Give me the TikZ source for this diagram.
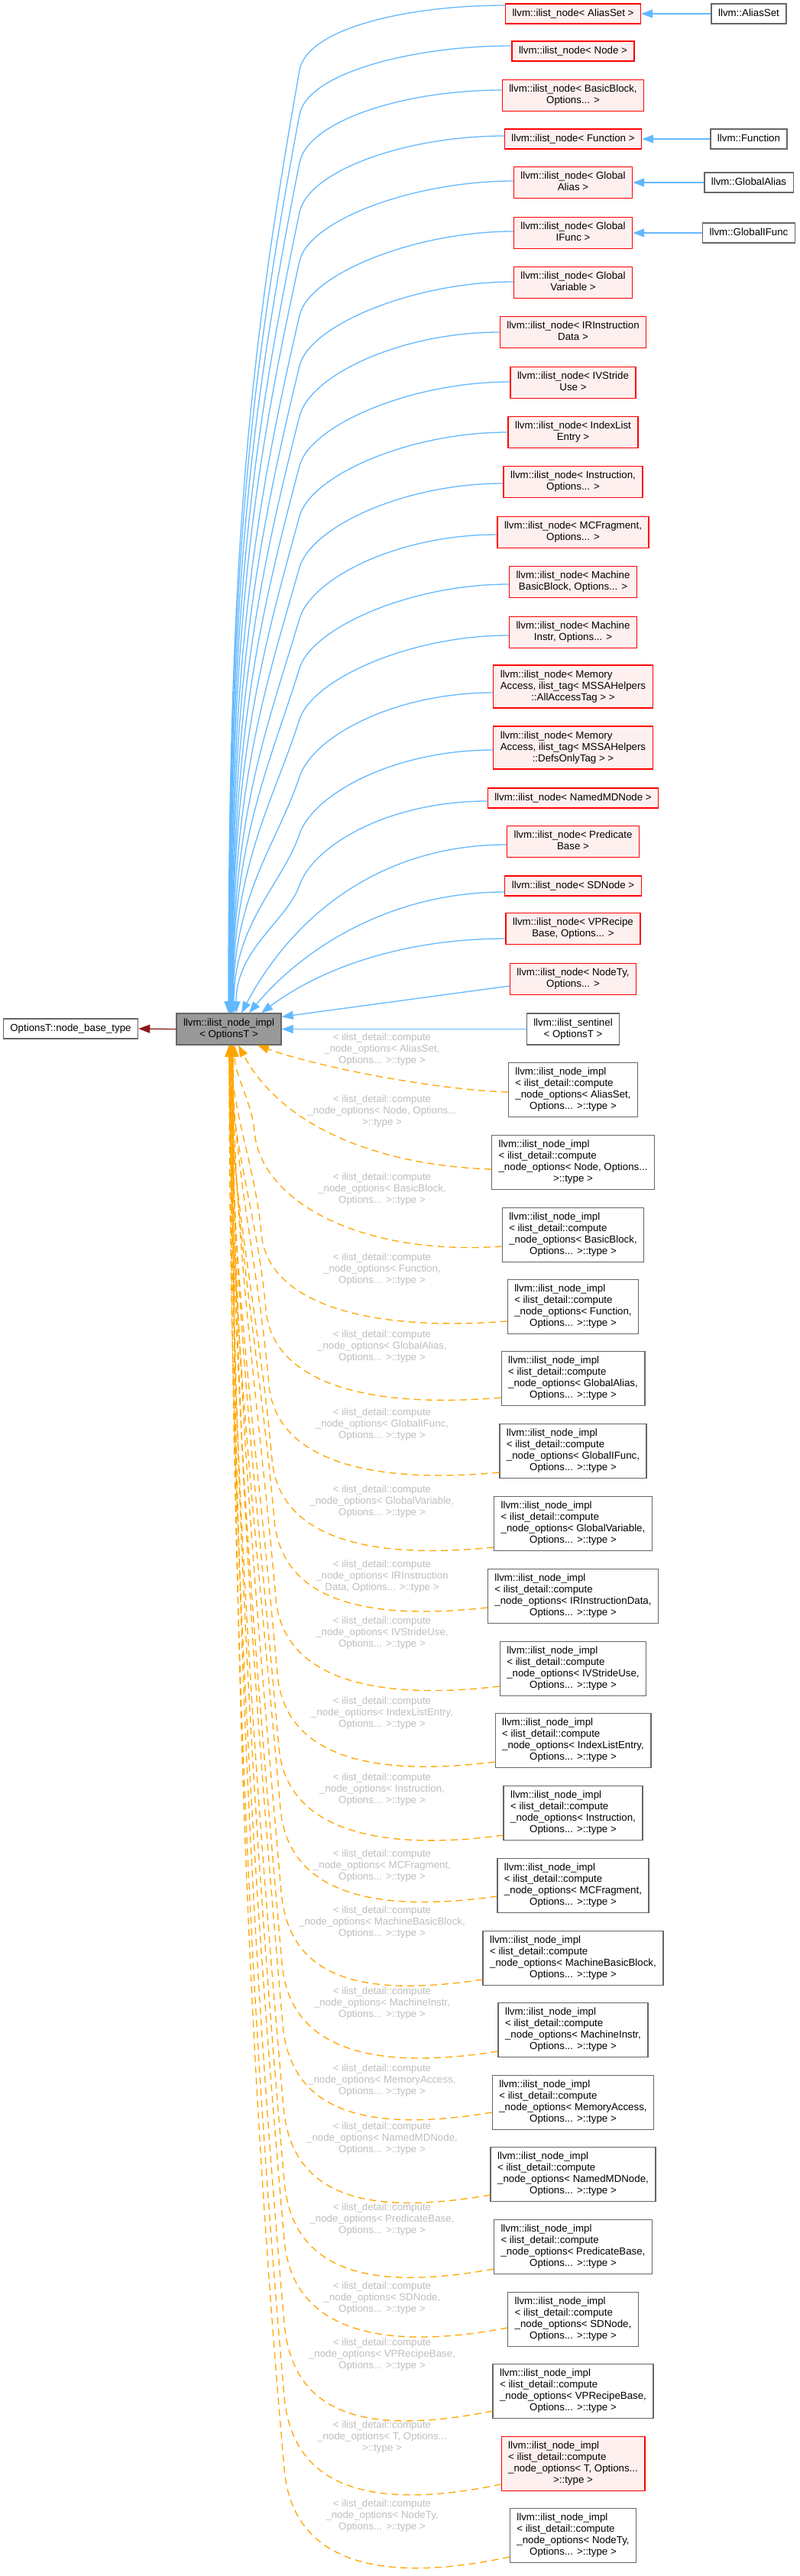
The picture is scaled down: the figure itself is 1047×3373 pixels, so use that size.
\documentclass[tikz,border=0pt]{standalone}
\usepackage{fontspec}
\setmainfont{Liberation Sans}
\usetikzlibrary{arrows.meta,calc}
\definecolor{edgeblue}{HTML}{63B8FF}
\definecolor{edgeorange}{HTML}{FFA500}
\definecolor{darkred}{HTML}{8B1A1A}
\definecolor{redfill}{HTML}{FFF0F0}
\definecolor{boxgray}{HTML}{666666}
\definecolor{centerfill}{HTML}{999999}
\definecolor{labelgray}{HTML}{BEBEBE}
\newcommand\nf{\fontsize{3.325pt}{3.75pt}\selectfont}
\newcommand\tb[1]{\begin{tabular}{@{}l@{}}#1\end{tabular}}
\newcommand\lc[1]{\multicolumn{1}{@{}c@{}}{#1}}
\tikzset{
  every node/.style={font=\nf},
  cls/.style={draw=boxgray, fill=white, line width=0.325pt, inner xsep=2.25pt, inner ysep=1.375pt},
  redbox/.style={draw=red, fill=redfill, line width=0.325pt, inner xsep=2.25pt, inner ysep=1.375pt},
  basebox/.style={draw=boxgray, fill=centerfill, line width=0.325pt, inner xsep=2.25pt, inner ysep=1.375pt},
  lbl/.style={text=labelgray, align=center, inner sep=0pt},
  tip/.style={-{Triangle[length=3.75pt,width=2.75pt]}},
  bedge/.style={draw=edgeblue, line width=0.325pt, tip},
  oedge/.style={draw=edgeorange, line width=0.325pt, dash pattern=on 2.25pt off 1.5pt, tip},
  redge/.style={draw=darkred, line width=0.325pt, tip}
}
\begin{document}
\begin{tikzpicture}[x=0.25pt,y=-0.25pt]
\useasboundingbox (0,0) rectangle (1047,3373);

% base and central nodes
\node[cls] (nb) at (92.5,1347) {\tb{OptionsT::node\_base\_type}};
\node[basebox] (c) at (299.5,1347.5) {\tb{llvm::ilist\_node\_impl\\ \lc{< OptionsT >}}};

% ilist_node specialisations
\node[redbox] (r0) at (750,18) {\tb{llvm::ilist\_node< AliasSet >}};
\node[redbox] (r1) at (750,67) {\tb{llvm::ilist\_node< Node >}};
\node[redbox] (r2) at (750,125) {\tb{llvm::ilist\_node< BasicBlock,\\ \lc{Options... >}}};
\node[redbox] (r3) at (750,182) {\tb{llvm::ilist\_node< Function >}};
\node[redbox] (r4) at (750,239) {\tb{llvm::ilist\_node< Global\\ \lc{Alias >}}};
\node[redbox] (r5) at (750,305) {\tb{llvm::ilist\_node< Global\\ \lc{IFunc >}}};
\node[redbox] (r6) at (750,370) {\tb{llvm::ilist\_node< Global\\ \lc{Variable >}}};
\node[redbox] (r7) at (750,435) {\tb{llvm::ilist\_node< IRInstruction\\ \lc{Data >}}};
\node[redbox] (r8) at (750,501) {\tb{llvm::ilist\_node< IVStride\\ \lc{Use >}}};
\node[redbox] (r9) at (750,566) {\tb{llvm::ilist\_node< IndexList\\ \lc{Entry >}}};
\node[redbox] (r10) at (750,631) {\tb{llvm::ilist\_node< Instruction,\\ \lc{Options... >}}};
\node[redbox] (r11) at (750,697) {\tb{llvm::ilist\_node< MCFragment,\\ \lc{Options... >}}};
\node[redbox] (r12) at (750,762) {\tb{llvm::ilist\_node< Machine\\ \lc{BasicBlock, Options... >}}};
\node[redbox] (r13) at (750,828) {\tb{llvm::ilist\_node< Machine\\ \lc{Instr, Options... >}}};
\node[redbox] (r14) at (750,899) {\tb{llvm::ilist\_node< Memory\\ Access, ilist\_tag< MSSAHelpers\\ \lc{::AllAccessTag > >}}};
\node[redbox] (r15) at (750,979) {\tb{llvm::ilist\_node< Memory\\ Access, ilist\_tag< MSSAHelpers\\ \lc{::DefsOnlyTag > >}}};
\node[redbox] (r16) at (750,1045) {\tb{llvm::ilist\_node< NamedMDNode >}};
\node[redbox] (r17) at (750,1102) {\tb{llvm::ilist\_node< Predicate\\ \lc{Base >}}};
\node[redbox] (r18) at (750,1160) {\tb{llvm::ilist\_node< SDNode >}};
\node[redbox] (r19) at (750,1216) {\tb{llvm::ilist\_node< VPRecipe\\ \lc{Base, Options... >}}};
\node[redbox] (r20) at (750,1282) {\tb{llvm::ilist\_node< NodeTy,\\ \lc{Options... >}}};
\node[cls] (s) at (750,1347.5) {\tb{llvm::ilist\_sentinel\\ \lc{< OptionsT >}}};

% leaf classes
\node[cls] (a0) at (980,18) {\tb{llvm::AliasSet}};
\node[cls] (a3) at (980,182) {\tb{llvm::Function}};
\node[cls] (a4) at (980,239) {\tb{llvm::GlobalAlias}};
\node[cls] (a5) at (980,305) {\tb{llvm::GlobalIFunc}};

% ilist_node_impl instantiations
\node[cls] (o0) at (750,1427) {\tb{llvm::ilist\_node\_impl\\< ilist\_detail::compute\\\_node\_options< AliasSet,\\ \lc{Options... >::type >}}};
\node[cls] (o1) at (750,1522) {\tb{llvm::ilist\_node\_impl\\< ilist\_detail::compute\\\_node\_options< Node, Options...\\ \lc{>::type >}}};
\node[cls] (o2) at (750,1617) {\tb{llvm::ilist\_node\_impl\\< ilist\_detail::compute\\\_node\_options< BasicBlock,\\ \lc{Options... >::type >}}};
\node[cls] (o3) at (750,1711) {\tb{llvm::ilist\_node\_impl\\< ilist\_detail::compute\\\_node\_options< Function,\\ \lc{Options... >::type >}}};
\node[cls] (o4) at (750,1805) {\tb{llvm::ilist\_node\_impl\\< ilist\_detail::compute\\\_node\_options< GlobalAlias,\\ \lc{Options... >::type >}}};
\node[cls] (o5) at (750,1900) {\tb{llvm::ilist\_node\_impl\\< ilist\_detail::compute\\\_node\_options< GlobalIFunc,\\ \lc{Options... >::type >}}};
\node[cls] (o6) at (750,1995) {\tb{llvm::ilist\_node\_impl\\< ilist\_detail::compute\\\_node\_options< GlobalVariable,\\ \lc{Options... >::type >}}};
\node[cls] (o7) at (750,2090) {\tb{llvm::ilist\_node\_impl\\< ilist\_detail::compute\\\_node\_options< IRInstructionData,\\ \lc{Options... >::type >}}};
\node[cls] (o8) at (750,2185) {\tb{llvm::ilist\_node\_impl\\< ilist\_detail::compute\\\_node\_options< IVStrideUse,\\ \lc{Options... >::type >}}};
\node[cls] (o9) at (750,2279) {\tb{llvm::ilist\_node\_impl\\< ilist\_detail::compute\\\_node\_options< IndexListEntry,\\ \lc{Options... >::type >}}};
\node[cls] (o10) at (750,2374) {\tb{llvm::ilist\_node\_impl\\< ilist\_detail::compute\\\_node\_options< Instruction,\\ \lc{Options... >::type >}}};
\node[cls] (o11) at (750,2469) {\tb{llvm::ilist\_node\_impl\\< ilist\_detail::compute\\\_node\_options< MCFragment,\\ \lc{Options... >::type >}}};
\node[cls] (o12) at (750,2564) {\tb{llvm::ilist\_node\_impl\\< ilist\_detail::compute\\\_node\_options< MachineBasicBlock,\\ \lc{Options... >::type >}}};
\node[cls] (o13) at (750,2658) {\tb{llvm::ilist\_node\_impl\\< ilist\_detail::compute\\\_node\_options< MachineInstr,\\ \lc{Options... >::type >}}};
\node[cls] (o14) at (750,2753) {\tb{llvm::ilist\_node\_impl\\< ilist\_detail::compute\\\_node\_options< MemoryAccess,\\ \lc{Options... >::type >}}};
\node[cls] (o15) at (750,2847) {\tb{llvm::ilist\_node\_impl\\< ilist\_detail::compute\\\_node\_options< NamedMDNode,\\ \lc{Options... >::type >}}};
\node[cls] (o16) at (750,2942) {\tb{llvm::ilist\_node\_impl\\< ilist\_detail::compute\\\_node\_options< PredicateBase,\\ \lc{Options... >::type >}}};
\node[cls] (o17) at (750,3037) {\tb{llvm::ilist\_node\_impl\\< ilist\_detail::compute\\\_node\_options< SDNode,\\ \lc{Options... >::type >}}};
\node[cls] (o18) at (750,3131) {\tb{llvm::ilist\_node\_impl\\< ilist\_detail::compute\\\_node\_options< VPRecipeBase,\\ \lc{Options... >::type >}}};
\node[redbox] (o19) at (750,3226) {\tb{llvm::ilist\_node\_impl\\< ilist\_detail::compute\\\_node\_options< T, Options...\\ \lc{>::type >}}};
\node[cls] (o20) at (750,3320) {\tb{llvm::ilist\_node\_impl\\< ilist\_detail::compute\\\_node\_options< NodeTy,\\ \lc{Options... >::type >}}};

% edge labels
\node[lbl] (l0) at (500,1374) {< ilist\_detail::compute\\\_node\_options< AliasSet,\\Options... >::type >};
\node[lbl] (l1) at (500,1455) {< ilist\_detail::compute\\\_node\_options< Node, Options...\\>::type >};
\node[lbl] (l2) at (500,1557) {< ilist\_detail::compute\\\_node\_options< BasicBlock,\\Options... >::type >};
\node[lbl] (l3) at (500,1662) {< ilist\_detail::compute\\\_node\_options< Function,\\Options... >::type >};
\node[lbl] (l4) at (500,1763) {< ilist\_detail::compute\\\_node\_options< GlobalAlias,\\Options... >::type >};
\node[lbl] (l5) at (500,1865) {< ilist\_detail::compute\\\_node\_options< GlobalIFunc,\\Options... >::type >};
\node[lbl] (l6) at (500,1966) {< ilist\_detail::compute\\\_node\_options< GlobalVariable,\\Options... >::type >};
\node[lbl] (l7) at (500,2064) {< ilist\_detail::compute\\\_node\_options< IRInstruction\\Data, Options... >::type >};
\node[lbl] (l8) at (500,2138) {< ilist\_detail::compute\\\_node\_options< IVStrideUse,\\Options... >::type >};
\node[lbl] (l9) at (500,2243) {< ilist\_detail::compute\\\_node\_options< IndexListEntry,\\Options... >::type >};
\node[lbl] (l10) at (500,2343) {< ilist\_detail::compute\\\_node\_options< Instruction,\\Options... >::type >};
\node[lbl] (l11) at (500,2443) {< ilist\_detail::compute\\\_node\_options< MCFragment,\\Options... >::type >};
\node[lbl] (l12) at (500,2517) {< ilist\_detail::compute\\\_node\_options< MachineBasicBlock,\\Options... >::type >};
\node[lbl] (l13) at (500,2623) {< ilist\_detail::compute\\\_node\_options< MachineInstr,\\Options... >::type >};
\node[lbl] (l14) at (500,2724) {< ilist\_detail::compute\\\_node\_options< MemoryAccess,\\Options... >::type >};
\node[lbl] (l15) at (500,2800) {< ilist\_detail::compute\\\_node\_options< NamedMDNode,\\Options... >::type >};
\node[lbl] (l16) at (500,2906) {< ilist\_detail::compute\\\_node\_options< PredicateBase,\\Options... >::type >};
\node[lbl] (l17) at (500,3009) {< ilist\_detail::compute\\\_node\_options< SDNode,\\Options... >::type >};
\node[lbl] (l18) at (500,3083) {< ilist\_detail::compute\\\_node\_options< VPRecipeBase,\\Options... >::type >};
\node[lbl] (l19) at (500,3191) {< ilist\_detail::compute\\\_node\_options< T, Options...\\>::type >};
\node[lbl] (l20) at (500,3294) {< ilist\_detail::compute\\\_node\_options< NodeTy,\\Options... >::type >};

% inheritance of the base
\draw[redge] (c.west) -- (nb.east);

% leaf classes -> ilist_node
\draw[bedge] (a0.west) -- (r0.east);
\draw[bedge] (a3.west) -- (r3.east);
\draw[bedge] (a4.west) -- (r4.east);
\draw[bedge] (a5.west) -- (r5.east);

% sentinel
\draw[bedge] (s.west) -- (c.east);

% ilist_node -> ilist_node_impl (long curves)
\foreach \j/\dy/\ky/\tx in {0/-11/92/299, 1/-7/150/299.5, 2/-7/213/300, 3/-4/278/300.5,
  4/-2/342/301, 5/-2/413/301.5, 6/-1/479/302, 7/0/545/302.5, 8/-1/610/303,
  9/0/676/303, 10/2/743/303.5, 11/3/810/304, 12/3/875/304, 13/4/942/304.5,
  14/8/1017/305, 15/3/1092/306, 16/4/1159/309}{
  \pgfmathsetmacro\oa{260-0.6*\j}
  \pgfmathsetmacro\ia{80-0.6*\j}
  \pgfmathsetmacro\dda{0.075*(1327-\ky)}
  \pgfmathsetmacro\dde{0.125*(1327-\ky)}
  \coordinate (bb\j) at ($(r\j.west)+(0,\dy)$);
  \coordinate (bk\j) at (392,\ky);
  \coordinate (bt\j) at ($(c.north)+(\tx-299.5,0)$);
  \draw[bedge] (bb\j) to[out=180, in=\ia, out distance=32.5pt, in distance=13.75pt] (bk\j)
    to[out=\oa, in=90, out distance=\dda pt, in distance=\dde pt] (bt\j);
}
% ilist_node -> ilist_node_impl (short curves)
\foreach \j/\dy/\tx/\ia/\odb/\idb in {17/4/316/62/40/37.5, 18/8/326/50/37.5/27.5, 19/13/342/37/32.5/25}{
  \coordinate (bb\j) at ($(r\j.west)+(0,\dy)$);
  \coordinate (bt\j) at ($(c.north)+(\tx-299.5,0)$);
  \draw[bedge] (bb\j) to[out=180, in=\ia, out distance=\odb pt, in distance=\idb pt] (bt\j);
}
\coordinate (bb20) at ($(r20.west)+(0,9)$);
\coordinate (bt20) at ($(c.north east)+(0,5)$);
\draw[bedge] (bb20) -- (bt20);

% template instantiations (orange dashed)
\coordinate (ob0) at ($(o0.west)+(0,3)$);
\coordinate (oe0) at ($(c.south)+(37.5,0)$);
\draw[oedge] (ob0) to[out=178, in=-20, out distance=25pt, in distance=20pt] (oe0);
\coordinate (ob1) at ($(o1.west)+(0,9)$);
\coordinate (oe1) at ($(c.south)+(12.5,0)$);
\draw[oedge] (ob1) to[out=178, in=-62, out distance=37.5pt, in distance=30pt] (oe1);
\foreach \i/\dy/\xk/\ky/\ex in {2/15/333/1482/307, 3/19/342/1615/303, 4/25/348/1715/301,
  5/28/352/1813/304, 6/31/356/1911/300, 7/15/359/1990/302, 8/23/361/2093/305,
  9/28/363/2192/301, 10/29/365/2288/303, 11/14/367/2368/300, 12/28/368/2477/304,
  13/28/369/2571/302, 14/13/370/2651/305, 15/27/371/2759/301, 16/29/372/2856/303,
  17/11/372/2933/300, 18/26/372/3042/304, 19/27/372/3138/302, 20/28/372/3233/305}{
  \pgfmathsetmacro\oa{184+(\i-2)*0.45}
  \pgfmathsetmacro\odc{0.145*(650-\xk)}
  \pgfmathsetmacro\idc{0.25*(92+(\i-2)*2.1)}
  \pgfmathsetmacro\kd{0.0875*(\ky-1368)}
  \coordinate (ob\i) at ($(o\i.west)+(0,\dy)$);
  \coordinate (ok\i) at (\xk,\ky);
  \coordinate (oe\i) at ($(c.south)+(\ex-299.5,0)$);
  \draw[oedge] (ob\i) to[out=\oa, in=275, out distance=\odc pt, in distance=\idc pt] (ok\i)
    to[out=95, in=270, out distance=\kd pt, in distance=\kd pt] (oe\i);
}
\end{tikzpicture}
\end{document}
